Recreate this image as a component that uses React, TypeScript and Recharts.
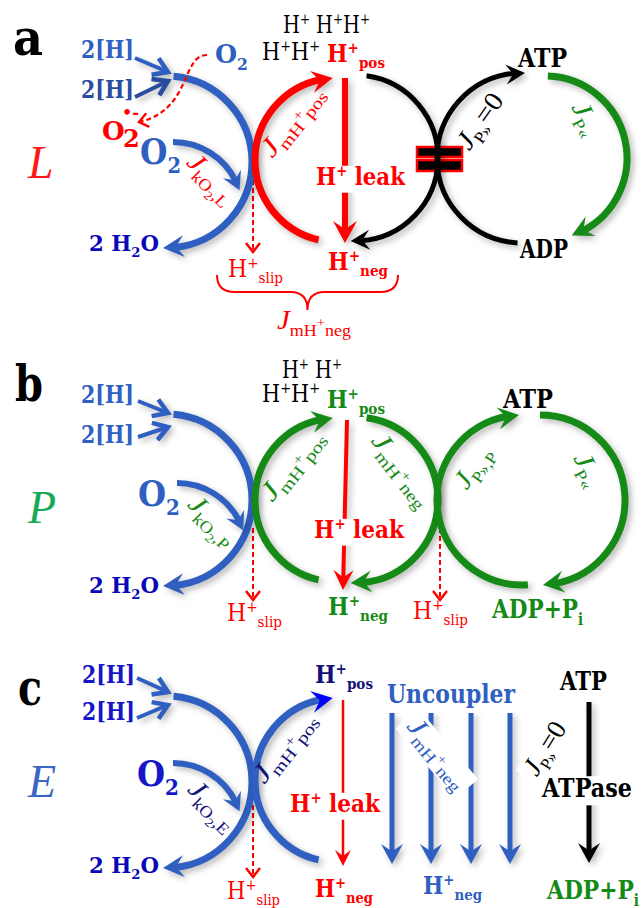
import React from 'react';
import { ScatterChart, XAxis, YAxis, Scatter, ReferenceLine, ReferenceArea } from 'recharts';

const W = 644;
const H = 908;
const KX = 1; // chart px per diagram unit (chart is drawn at the diagram's own size)
const RAD = Math.PI / 180;
const SHADOW = 'drop-shadow(3px 3px 3px rgba(0,0,0,0.28))';

// circular fluxes: centre, radius, start/end angle (deg, 0 = east, clockwise)
const arcs = [
  // a  (LEAK)
  { x: 166, y: 162, r: 86, a0: -85, a1: 92, c: 'blue', k: 'thick' },
  { x: 337, y: 160, r: 82, a0: 103, a1: 267, c: 'red', k: 'thick' },
  { x: 355, y: 158, r: 83, a0: -82, a1: 93, c: 'black', k: 'mid' },
  { x: 522, y: 158, r: 85, a0: 93, a1: 272, c: 'black', k: 'mid' },
  { x: 545, y: 158, r: 82, a0: -88, a1: 71, c: 'green', k: 'thick' },
  { x: 173, y: 212, r: 70, a0: -90, a1: -18, c: 'blue', k: 'small' },
  // b  (OXPHOS)
  { x: 166, y: 500, r: 86, a0: -85, a1: 92, c: 'blue', k: 'thick' },
  { x: 337, y: 500, r: 82, a0: 103, a1: 267, c: 'green', k: 'thick' },
  { x: 355, y: 500, r: 83, a0: -82, a1: 93, c: 'green', k: 'thick' },
  { x: 522, y: 500, r: 85, a0: 86, a1: 268, c: 'green', k: 'thick' },
  { x: 540, y: 500, r: 85, a0: -90, a1: 88, c: 'green', k: 'thick' },
  { x: 177, y: 553, r: 70, a0: -90, a1: -19, c: 'blue', k: 'small' },
  // c  (ET capacity)
  { x: 166, y: 782, r: 86, a0: -85, a1: 92, c: 'blue', k: 'thick' },
  { x: 337, y: 780, r: 82, a0: 103, a1: 267, c: 'blue', hc: 'pure', k: 'thick' },
  { x: 173, y: 833, r: 70, a0: -90, a1: -18, c: 'blue', k: 'small' },
];

// straight arrows: start -> tip
const arrows = [
  { x: 135, y: 58, x2: 168, y2: 72, c: 'blue', k: 'feed' },
  { x: 135, y: 97, x2: 168, y2: 81, c: 'hblue', k: 'feed' },
  { x: 345, y: 78, x2: 345, y2: 243, c: 'red', k: 'leak' },
  { x: 253, y: 180, x2: 253, y2: 252, c: 'red', k: 'slip' },

  { x: 138, y: 401, x2: 168, y2: 413, c: 'blue', k: 'feed' },
  { x: 138, y: 437, x2: 168, y2: 427, c: 'blue', k: 'feed' },
  { x: 347, y: 420, x2: 343, y2: 590, c: 'red', k: 'leakB' },
  { x: 253, y: 528, x2: 253, y2: 600, c: 'red', k: 'slip' },
  { x: 440, y: 528, x2: 440, y2: 600, c: 'red', k: 'slip' },

  { x: 137, y: 678, x2: 168, y2: 692, c: 'blue', k: 'feed' },
  { x: 137, y: 718, x2: 168, y2: 705, c: 'blue', k: 'feed' },
  { x: 343, y: 700, x2: 343, y2: 866, c: 'red', k: 'thin' },
  { x: 253, y: 805, x2: 253, y2: 877, c: 'red', k: 'slip' },
  { x: 392, y: 713, x2: 392, y2: 864, c: 'blue', k: 'unc' },
  { x: 431, y: 713, x2: 431, y2: 864, c: 'blue', k: 'unc' },
  { x: 471, y: 713, x2: 471, y2: 864, c: 'blue', k: 'unc' },
  { x: 510, y: 713, x2: 510, y2: 864, c: 'blue', k: 'unc' },
  { x: 589, y: 702, x2: 589, y2: 863, c: 'black', k: 'unc' },
];

// the "=" block on the ATP synthase
const bars = [
  { x1: 417, x2: 462, y1: 147, y2: 157 },
  { x1: 417, x2: 462, y1: 160, y2: 171 },
];

const braces = [{ x: 217, y: 275, x2: 398, yb: 292, yt: 310 }];
const curves = [{ x: 207, y: 55, c1x: 181, c1y: 55, c2x: 192, c2y: 110, x2: 139, y2: 122 }];

// text: ^{} superscript, _{} subscript, ~{} raised small, .{} second-order subscript
const labels = [
  { x: 13, y: 55, s: 'a', k: 'panel', c: 'black', w: 30 },
  { x: 28, y: 178, s: 'L', k: 'state', c: 'lred' },
  { x: 81, y: 58, s: '2[H]', k: 'bold', c: 'blue', w: 53 },
  { x: 81, y: 98, s: '2[H]', k: 'bold', c: 'hblue', w: 53 },
  { x: 215, y: 63, s: 'O_{2}', k: 'boldM', c: 'blue', w: 33 },
  { x: 102, y: 140, s: 'O', k: 'boldM', c: 'red' },
  { x: 123, y: 147, s: '2', k: 'bold', c: 'red' },
  { x: 122, y: 118, s: '•-', k: 'tiny', c: 'red' },
  { x: 140, y: 164, s: 'O_{2}', k: 'big', c: 'blue', w: 41 },
  { x: 206, y: 184, s: 'J_{kO}.{2}_{,L}', k: 'flux', c: 'red', rot: 45, w: 58 },
  { x: 298, y: 126, s: 'J_{mH}~{+}_{pos}', k: 'flux', c: 'red', rot: -52, w: 84 },
  { x: 283, y: 33, s: 'H^{+} H^{+}H^{+}', k: 'plain', c: 'black', w: 87 },
  { x: 262, y: 60, s: 'H^{+}H^{+}', k: 'plain', c: 'black', w: 58 },
  { x: 327, y: 62, s: 'H^{+}_{pos}', k: 'bold', c: 'red', w: 58 },
  { x: 316, y: 185, s: 'H^{+} leak', k: 'bold', c: 'red', w: 89, bg: true },
  { x: 518, y: 67, s: 'ATP', k: 'boldL', c: 'black', w: 49 },
  { x: 520, y: 258, s: 'ADP', k: 'boldL', c: 'black', w: 48 },
  { x: 487, y: 126, s: 'J_{P»}=0', k: 'flux', c: 'black', rot: -55, w: 62 },
  { x: 579, y: 122, s: 'J_{P«}', k: 'flux', c: 'green', rot: 62, w: 34 },
  { x: 328, y: 270, s: 'H^{+}_{neg}', k: 'bold', c: 'red', w: 60 },
  { x: 89, y: 251, s: '2 H_{2}O', k: 'boldS', c: 'navy', w: 70 },
  { x: 228, y: 277, s: 'H^{+}_{slip}', k: 'plain', c: 'red', w: 55 },
  { x: 277, y: 329, s: 'J_{mH}~{+}_{neg}', k: 'flux', c: 'red', w: 74 },

  { x: 15, y: 401, s: 'b', k: 'panel', c: 'black', w: 28 },
  { x: 28, y: 523, s: 'P', k: 'state', c: 'pgreen' },
  { x: 81, y: 403, s: '2[H]', k: 'bold', c: 'blue', w: 53 },
  { x: 81, y: 443, s: '2[H]', k: 'bold', c: 'blue', w: 53 },
  { x: 138, y: 506, s: 'O_{2}', k: 'big', c: 'blue', w: 42 },
  { x: 207, y: 526, s: 'J_{kO}.{2}_{,P}', k: 'flux', c: 'green', rot: 45, w: 58 },
  { x: 89, y: 593, s: '2 H_{2}O', k: 'boldS', c: 'navy', w: 70 },
  { x: 227, y: 621, s: 'H^{+}_{slip}', k: 'plain', c: 'red', w: 55 },
  { x: 282, y: 378, s: 'H^{+} H^{+}', k: 'plain', c: 'black', w: 60 },
  { x: 262, y: 402, s: 'H^{+}H^{+}', k: 'plain', c: 'black', w: 58 },
  { x: 327, y: 408, s: 'H^{+}_{pos}', k: 'bold', c: 'green', w: 58 },
  { x: 298, y: 470, s: 'J_{mH}~{+}_{pos}', k: 'flux', c: 'green', rot: -52, w: 84 },
  { x: 396, y: 474, s: 'J_{mH}~{+}_{neg}', k: 'flux', c: 'green', rot: 52, w: 84 },
  { x: 314, y: 538, s: 'H^{+} leak', k: 'bold', c: 'red', w: 90, bg: true },
  { x: 328, y: 615, s: 'H^{+}_{neg}', k: 'bold', c: 'green', w: 60 },
  { x: 413, y: 619, s: 'H^{+}_{slip}', k: 'plain', c: 'red', w: 55 },
  { x: 503, y: 408, s: 'ATP', k: 'boldL', c: 'black', w: 50 },
  { x: 492, y: 618, s: 'ADP+P_{i}', k: 'boldL', c: 'green', w: 91 },
  { x: 480, y: 472, s: 'J_{P»,P}', k: 'flux', c: 'green', rot: -55, w: 46 },
  { x: 581, y: 473, s: 'J_{P«}', k: 'flux', c: 'green', rot: 62, w: 34 },

  { x: 18, y: 705, s: 'c', k: 'panel', c: 'black', w: 24 },
  { x: 28, y: 797, s: 'E', k: 'state', c: 'sblue' },
  { x: 82, y: 683, s: '2[H]', k: 'bold', c: 'cblue', w: 53 },
  { x: 82, y: 720, s: '2[H]', k: 'bold', c: 'cblue', w: 53 },
  { x: 137, y: 786, s: 'O_{2}', k: 'big', c: 'cblue', w: 42 },
  { x: 207, y: 811, s: 'J_{kO}.{2}_{,E}', k: 'flux', c: 'dnavy', rot: 45, w: 58 },
  { x: 89, y: 873, s: '2 H_{2}O', k: 'boldS', c: 'navy', w: 70 },
  { x: 227, y: 899, s: 'H^{+}_{slip}', k: 'plain', c: 'red', w: 53 },
  { x: 290, y: 752, s: 'J_{mH}~{+}_{pos}', k: 'flux', c: 'dnavy', rot: -52, w: 84 },
  { x: 315, y: 683, s: 'H^{+}_{pos}', k: 'bold', c: 'dnavy', w: 58 },
  { x: 290, y: 812, s: 'H^{+} leak', k: 'bold', c: 'red', w: 90, bg: true },
  { x: 315, y: 897, s: 'H^{+}_{neg}', k: 'bold', c: 'red', w: 58 },
  { x: 387, y: 703, s: 'Uncoupler', k: 'boldL', c: 'blue', w: 128, bg: true },
  { x: 432, y: 758, s: 'J_{mH}~{+}_{neg}', k: 'flux', c: 'blue', rot: 50, w: 82, bg: true },
  { x: 423, y: 894, s: 'H^{+}_{neg}', k: 'bold', c: 'blue', w: 59 },
  { x: 560, y: 690, s: 'ATP', k: 'boldL', c: 'black', w: 47 },
  { x: 552, y: 753, s: 'J_{P»}=0', k: 'flux', c: 'black', rot: -58, w: 58, bg: true },
  { x: 542, y: 797, s: 'ATPase', k: 'boldL', c: 'black', w: 90, bg: true },
  { x: 547, y: 899, s: 'ADP+P_{i}', k: 'boldL', c: 'green', w: 92 },
];

const colors: Record<string, string> = {
  blue: '#2f5fc1',
  hblue: '#2a4c9e',
  cblue: '#1616c8',
  navy: '#0808b8',
  dnavy: '#12127a',
  pure: '#0000ff',
  red: '#ff0000',
  lred: '#ff1a1a',
  green: '#168a16',
  pgreen: '#19a85a',
  sblue: '#3a66c4',
  black: '#000000',
};

const arcStyle: Record<string, { w: number; L: number; hw: number }> = {
  thick: { w: 7, L: 21, hw: 11 },
  mid: { w: 5, L: 19, hw: 10 },
  small: { w: 6, L: 18, hw: 10 },
};

const arrowStyle: Record<string, { w: number; L: number; hw: number; open?: boolean; dash?: string; shadow?: boolean }> = {
  feed: { w: 4, L: 14, hw: 9, open: true, shadow: true },
  leak: { w: 6, L: 22, hw: 12, shadow: true },
  leakB: { w: 4, L: 20, hw: 10, shadow: true },
  thin: { w: 2.5, L: 16, hw: 8 },
  unc: { w: 5, L: 20, hw: 11, shadow: true },
  slip: { w: 2, L: 9, hw: 7, open: true, dash: '5 3' },
};

const labelStyle: Record<string, { fs: number; fw: number; fi: string; ff: string }> = {
  panel: { fs: 50, fw: 700, fi: 'normal', ff: "'DejaVu Serif', serif" },
  state: { fs: 46, fw: 400, fi: 'italic', ff: "'Liberation Serif', serif" },
  bold: { fs: 24, fw: 700, fi: 'normal', ff: "'DejaVu Serif', serif" },
  boldS: { fs: 22, fw: 700, fi: 'normal', ff: "'DejaVu Serif', serif" },
  boldM: { fs: 26, fw: 700, fi: 'normal', ff: "'DejaVu Serif', serif" },
  boldL: { fs: 26, fw: 700, fi: 'normal', ff: "'DejaVu Serif', serif" },
  big: { fs: 35, fw: 700, fi: 'normal', ff: "'DejaVu Serif', serif" },
  plain: { fs: 25, fw: 400, fi: 'normal', ff: "'DejaVu Serif', serif" },
  tiny: { fs: 16, fw: 700, fi: 'normal', ff: "'DejaVu Sans', sans-serif" },
  flux: { fs: 27, fw: 400, fi: 'italic', ff: "'Liberation Serif', serif" },
};

const LEVELS: Record<string, { dy: number; sz: number }> = {
  n: { dy: 0, sz: 1 },
  sup: { dy: -0.38, sz: 0.62 },
  sub: { dy: 0.25, sz: 0.62 },
  mid: { dy: -0.08, sz: 0.5 },
  sub2: { dy: 0.4, sz: 0.46 },
};

function parse(s: string) {
  const out: { t: string; l: string }[] = [];
  const marks: Record<string, string> = { '^': 'sup', _: 'sub', '~': 'mid', '.': 'sub2' };
  let buf = '';
  let i = 0;
  while (i < s.length) {
    const ch = s[i];
    if (marks[ch] && s[i + 1] === '{') {
      if (buf) out.push({ t: buf, l: 'n' });
      buf = '';
      const end = s.indexOf('}', i + 2);
      out.push({ t: s.slice(i + 2, end), l: marks[ch] });
      i = end + 1;
    } else {
      buf += ch;
      i++;
    }
  }
  if (buf) out.push({ t: buf, l: 'n' });
  return out;
}

function headPath(tx: number, ty: number, ang: number, L: number, hw: number) {
  const ux = Math.cos(ang), uy = Math.sin(ang);
  const vx = -uy, vy = ux;
  const bx = tx - L * ux, by = ty - L * uy;
  const nx = tx - L * 0.62 * ux, ny = ty - L * 0.62 * uy;
  return `M${tx},${ty} L${bx + hw * vx},${by + hw * vy} L${nx},${ny} L${bx - hw * vx},${by - hw * vy} Z`;
}

function chevron(tx: number, ty: number, ang: number, L: number, hw: number) {
  const ux = Math.cos(ang), uy = Math.sin(ang);
  const vx = -uy, vy = ux;
  const bx = tx - L * ux, by = ty - L * uy;
  return `${bx + hw * vx},${by + hw * vy} ${tx},${ty} ${bx - hw * vx},${by - hw * vy}`;
}

const ArcShape = (props: any) => {
  const { cx, cy, payload: p } = props;
  const st = arcStyle[p.k];
  const r = p.r * KX;
  const dir = p.a1 > p.a0 ? 1 : -1;
  const cut = ((st.L * 0.55) / r) / RAD;
  const pt = (a: number) => [cx + r * Math.cos(a * RAD), cy + r * Math.sin(a * RAD)];
  const aEnd = p.a1 - dir * cut;
  const [x0, y0] = pt(p.a0);
  const [x1, y1] = pt(aEnd);
  const [tx, ty] = pt(p.a1);
  const [hx, hy] = pt(p.a1 - dir * cut * 1.8);
  const ang = Math.atan2(ty - hy, tx - hx);
  const large = Math.abs(aEnd - p.a0) > 180 ? 1 : 0;
  const sweep = dir > 0 ? 1 : 0;
  return (
    <g style={{ filter: SHADOW }}>
      <path d={`M${x0},${y0} A${r},${r} 0 ${large} ${sweep} ${x1},${y1}`} fill="none" stroke={colors[p.c]} strokeWidth={st.w} />
      <path d={headPath(tx, ty, ang, st.L, st.hw)} fill={colors[p.hc ?? p.c]} />
    </g>
  );
};

const ArrowShape = (props: any) => {
  const { x1, y1, x2, y2, a } = props;
  const st = arrowStyle[a.k];
  const col = colors[a.c];
  const ang = Math.atan2(y2 - y1, x2 - x1);
  const filter = st.shadow ? SHADOW : undefined;
  if (st.open) {
    return (
      <g style={{ filter }}>
        <line x1={x1} y1={y1} x2={x2} y2={y2} stroke={col} strokeWidth={st.w} strokeDasharray={st.dash} />
        <polyline points={chevron(x2, y2, ang, st.L, st.hw)} fill="none" stroke={col} strokeWidth={st.w + 0.5} strokeLinejoin="miter" />
      </g>
    );
  }
  const ex = x2 - Math.cos(ang) * st.L * 0.55;
  const ey = y2 - Math.sin(ang) * st.L * 0.55;
  return (
    <g style={{ filter }}>
      <line x1={x1} y1={y1} x2={ex} y2={ey} stroke={col} strokeWidth={st.w} />
      <path d={headPath(x2, y2, ang, st.L, st.hw)} fill={col} />
    </g>
  );
};

const BraceShape = (props: any) => {
  const { cx, cy, payload: p } = props;
  const x2 = cx + (p.x2 - p.x) * KX;
  const yb = cy + (p.yb - p.y) * KX;
  const yt = cy + (p.yt - p.y) * KX;
  const m = (cx + x2) / 2;
  const d = `M${cx},${cy} Q${cx},${yb} ${cx + 18},${yb} L${m - 17},${yb} Q${m},${yb} ${m},${yt} Q${m},${yb} ${m + 17},${yb} L${x2 - 18},${yb} Q${x2},${yb} ${x2},${cy}`;
  return <path d={d} fill="none" stroke={colors.red} strokeWidth={2} />;
};

const CurveShape = (props: any) => {
  const { cx, cy, payload: p } = props;
  const o = (v: number, b: number) => (v - b) * KX;
  const c1x = cx + o(p.c1x, p.x), c1y = cy + o(p.c1y, p.y);
  const c2x = cx + o(p.c2x, p.x), c2y = cy + o(p.c2y, p.y);
  const ex = cx + o(p.x2, p.x), ey = cy + o(p.y2, p.y);
  const ang = Math.atan2(ey - c2y, ex - c2x);
  return (
    <g>
      <path d={`M${cx},${cy} C${c1x},${c1y} ${c2x},${c2y} ${ex},${ey}`} fill="none" stroke={colors.red} strokeWidth={2.2} strokeDasharray="5 3" />
      <polyline points={chevron(ex, ey, ang, 9, 7)} fill="none" stroke={colors.red} strokeWidth={2.4} />
    </g>
  );
};

const LabelShape = (props: any) => {
  const { cx, cy, payload: p } = props;
  const st = labelStyle[p.k];
  const fs = st.fs;
  const isFlux = p.k === 'flux';
  let cur = 0;
  const spans = parse(p.s).map((t, i) => {
    const lv = LEVELS[t.l];
    const shift = lv.dy * fs;
    const dy = shift - cur;
    cur = shift;
    let text = t.t;
    let style = st.fi;
    if (isFlux && i === 0 && text.startsWith('J')) {
      // only the J is italic; the indices stay upright
      return [
        <tspan key={`${i}j`} dy={dy} fontSize={fs * lv.sz} fontStyle="italic">J</tspan>,
        text.length > 1 ? <tspan key={`${i}r`} fontStyle="normal" fontSize={fs * lv.sz}>{text.slice(1)}</tspan> : null,
      ];
    }
    if (isFlux) style = 'normal';
    return (
      <tspan key={i} dy={dy} fontSize={fs * lv.sz} fontStyle={style}>
        {text}
      </tspan>
    );
  });
  const rotated = p.rot != null;
  const w = p.w ?? fs * 0.7;
  const bg = p.bg ? (
    <rect
      x={rotated ? cx - w / 2 - 5 : cx - 4}
      y={cy - fs * 0.8}
      width={w + (rotated ? 10 : 8)}
      height={fs * 1.12}
      fill="#fff"
    />
  ) : null;
  return (
    <g transform={rotated ? `rotate(${p.rot} ${cx} ${cy})` : undefined}>
      {bg}
      <text
        x={cx}
        y={cy}
        fill={colors[p.c]}
        fontFamily={st.ff}
        fontWeight={st.fw}
        fontStyle={st.fi}
        fontSize={fs}
        textAnchor={rotated ? 'middle' : 'start'}
        textLength={p.w}
        lengthAdjust={p.w ? 'spacingAndGlyphs' : undefined}
      >
        {spans}
      </text>
    </g>
  );
};

export default function App() {
  return (
    <div style={{ width: W, height: H, background: '#fff' }}>
      <style>{'body{margin:0}'}</style>
      <ScatterChart width={W} height={H} margin={{ top: 0, right: 0, bottom: 0, left: 0 }}>
        <XAxis type="number" dataKey="x" domain={[0, W]} allowDataOverflow hide />
        <YAxis type="number" dataKey="y" domain={[0, H]} allowDataOverflow reversed hide />
        {arrows.map((a, i) => (
          <ReferenceLine
            key={`ar-${i}`}
            segment={[{ x: a.x, y: a.y }, { x: a.x2, y: a.y2 }]}
            ifOverflow="visible"
            shape={(lp: any) => <ArrowShape {...lp} a={a} />}
          />
        ))}
        {bars.map((b, i) => (
          <ReferenceArea
            key={`bar-${i}`}
            x1={b.x1}
            x2={b.x2}
            y1={b.y1}
            y2={b.y2}
            fill="#000"
            fillOpacity={1}
            stroke="#ff0000"
            strokeWidth={2.5}
            ifOverflow="visible"
          />
        ))}
        <Scatter data={arcs} shape={ArcShape} isAnimationActive={false} />
        <Scatter data={curves} shape={CurveShape} isAnimationActive={false} />
        <Scatter data={braces} shape={BraceShape} isAnimationActive={false} />
        <Scatter data={labels} shape={LabelShape} isAnimationActive={false} />
      </ScatterChart>
    </div>
  );
}
